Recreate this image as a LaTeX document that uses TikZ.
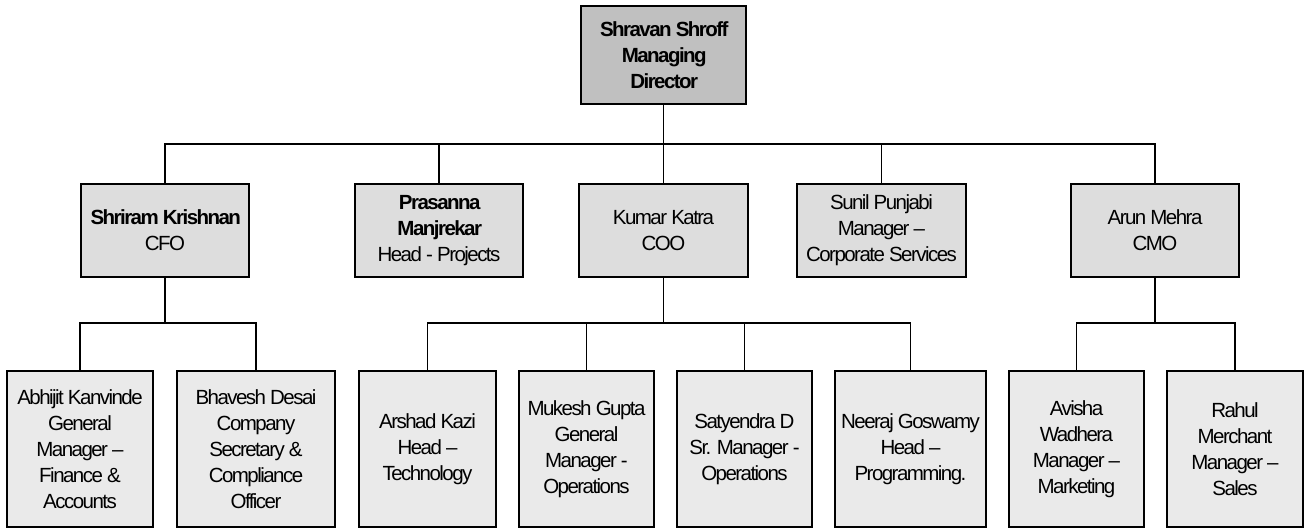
\documentclass[tikz,border=0pt]{standalone}
\usepackage{fontspec}
\setmainfont{Liberation Sans}[LetterSpace=-7.5]
\definecolor{topfill}{RGB}{192,192,192}
\definecolor{midfill}{RGB}{221,221,221}
\definecolor{lowfill}{RGB}{234,234,234}
\begin{document}
\begin{tikzpicture}[x=1pt,y=-1pt,
  box/.style={draw=black,line width=1.8pt,inner sep=0pt,align=center,
    font=\fontsize{20.5}{26}\selectfont,anchor=center},
  topbox/.style={box,fill=topfill,minimum width=165pt,minimum height=98pt},
  midbox/.style={box,fill=midfill,minimum height=93pt},
  lowbox/.style={box,fill=lowfill,minimum height=156pt},
  link/.style={draw=black,line width=1.8pt}]
\useasboundingbox (0,0) rectangle (1304,529);
% top
\node[topbox] (md) at (663.5,55) {\textbf{Shravan Shroff}\\\textbf{Managing}\\\textbf{Director}};
% level 2
\node[midbox,minimum width=168pt] (cfo) at (165,230.5) {\textbf{Shriram Krishnan}\\CFO};
\node[midbox,minimum width=168pt] (pm) at (439,230.5) {\textbf{Prasanna}\\\textbf{Manjrekar}\\Head - Projects};
\node[midbox,minimum width=169pt] (coo) at (663.5,230.5) {Kumar Katra\\COO};
\node[midbox,minimum width=169pt] (sp) at (881.5,230.5) {Sunil Punjabi\\Manager –\\Corporate Services};
\node[midbox,minimum width=168pt] (cmo) at (1155,230.5) {Arun Mehra\\CMO};
% level 3
\node[lowbox,minimum width=146pt] (ak) at (80,449) {Abhijit Kanvinde\\General\\Manager –\\Finance \&\\Accounts};
\node[lowbox,minimum width=158pt] (bd) at (256,449) {Bhavesh Desai\\Company\\Secretary \&\\Compliance\\Officer};
\node[lowbox,minimum width=137pt] (az) at (427.5,449) {Arshad Kazi\\Head –\\Technology};
\node[lowbox,minimum width=135pt] (mg) at (586.5,449) {Mukesh Gupta\\General\\Manager -\\Operations};
\node[lowbox,minimum width=135pt] (sd) at (744.5,449) {Satyendra D\\Sr. Manager -\\Operations};
\node[lowbox,minimum width=151pt] (ng) at (910.5,449) {Neeraj Goswamy\\Head –\\Programming.};
\node[lowbox,minimum width=135pt] (aw) at (1076.5,449) {Avisha\\Wadhera\\Manager –\\Marketing};
\node[lowbox,minimum width=136pt] (rm) at (1235,449) {Rahul\\Merchant\\Manager –\\Sales};
% buses
\coordinate (b1) at (663.5,144);
\coordinate (b2) at (165,323);
\coordinate (b3) at (663.5,323);
\coordinate (b4) at (1155,323);
\path[link] (md) -- (b1);
\foreach \n in {cfo,pm,coo,sp,cmo} \path[link] (\n.north) |- (b1);
\path[link] (cfo) -- (b2);
\foreach \n in {ak,bd} \path[link] (\n.north) |- (b2);
\path[link] (coo) -- (b3);
\foreach \n in {az,mg,sd,ng} \path[link] (\n.north) |- (b3);
\path[link] (cmo) -- (b4);
\foreach \n in {aw,rm} \path[link] (\n.north) |- (b4);
\end{tikzpicture}
\end{document}
